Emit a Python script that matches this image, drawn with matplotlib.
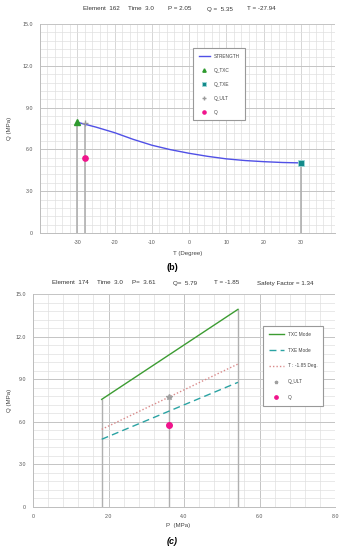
import matplotlib.pyplot as plt
import numpy as np
from matplotlib.ticker import MultipleLocator, FixedLocator

# ---- dados grafico (b) ----
temp = [-30, -25, -20, -15, -10, -5, 0, 5, 10, 15, 20, 25, 30]
strength = [7.95, 7.6, 7.2, 6.72, 6.3, 5.98, 5.72, 5.5, 5.32, 5.2, 5.12, 5.06, 5.03]
q_txc_b = (-30, 7.98)
q_txe_b = (30, 5.03)
q_ult_b = (-27.94, 7.88)
q_b = (-27.94, 5.35)
titulo_b = [("Element  162", 83), ("Time  3.0", 128), ("P = 2.05", 168), ("Q =  5.35", 207), ("T = -27.94", 247)]

# ---- dados grafico (c) ----
p_lim = [1.82, 5.43]
txc = [7.58, 13.92]
txe = [4.77, 8.78]
t_deg = [5.47, 10.07]
q_ult_c = (3.61, 7.77)
q_c = (3.61, 5.79)
titulo_c = [("Element  174", 52), ("Time  3.0", 97), ("P=  3.61", 132), ("Q=  5.79", 173),
            ("T = -1.85", 214), ("Safety Factor = 1.34", 257)]

W, H = 344, 550
plt.rcParams['font.family'] = ['Liberation Sans', 'DejaVu Sans']
plt.rcParams['axes.unicode_minus'] = False
fig = plt.figure(figsize=(W / 100, H / 100), dpi=100)

cinza_maior = '#c4c4c4'
cinza_menor = '#e0e0e0'
cinza_queda = '#b0b0b0'


def fx(px):
    return px / W


def fy(py):
    return 1 - py / H


def formatar_eixo(ax):
    ax.grid(which='major', color=cinza_maior, lw=0.7)
    ax.grid(which='minor', color=cinza_menor, lw=0.5)
    ax.set_axisbelow(True)
    for lado in ['top', 'right']:
        ax.spines[lado].set_visible(False)
    for lado in ['left', 'bottom']:
        ax.spines[lado].set_color('#bdbdbd')
        ax.spines[lado].set_linewidth(0.7)
    ax.tick_params(which='both', length=0, labelsize=3.8, colors='#555555', pad=5)
    ax.yaxis.set_major_locator(MultipleLocator(3))
    ax.yaxis.set_minor_locator(MultipleLocator(0.6))
    ax.set_ylim(0, 15)
    ax.set_yticks([0, 3, 6, 9, 12, 15])
    ax.set_yticklabels(['0', '3.0', '6.0', '9.0', '12.0', '15.0'])


# ---------------- (b) ----------------
ax1 = fig.add_axes([fx(40), fy(233), fx(295), fy(24) - fy(233)])
formatar_eixo(ax1)
ax1.set_xlim(-40, 39.1)
ax1.xaxis.set_minor_locator(MultipleLocator(2))
ax1.grid(which='major', axis='x', color=cinza_menor, lw=0.5)
ax1.xaxis.set_major_locator(FixedLocator([-30, -20, -10, 0, 10, 20, 30]))
ax1.vlines([-40, -30, -20, -10, 0, 10, 20, 30], 0, 15, color=cinza_maior, lw=0.7, zorder=0.5)

ax1.vlines([q_txc_b[0], q_ult_b[0], q_txe_b[0]], 0, [q_txc_b[1], q_ult_b[1], q_txe_b[1]],
           color=cinza_queda, lw=1.2, zorder=1)
ax1.plot(temp, strength, color='#5050e6', lw=1.0, label='STRENGTH', zorder=2)
ax1.plot(*q_txc_b, marker='^', color='#2e9a2e', ms=4, ls='none', label='Q_TXC', zorder=3)
ax1.plot(*q_txe_b, marker='s', color='#138a8a', mec='#9fd8d8', mew=0.6, ms=4, ls='none', label='Q_TXE', zorder=3)
ax1.plot(*q_ult_b, marker='+', color='#9a9a9a', ms=4, mew=1.0, ls='none', label='Q_ULT', zorder=3)
ax1.plot(*q_b, marker='o', color='#f0148c', ms=3.8, ls='none', label='Q', zorder=3)

leg1 = ax1.legend(loc='upper left', bbox_to_anchor=(fx(193), fy(48)), bbox_transform=fig.transFigure,
                  fontsize=3.4, labelspacing=1.9, handlelength=2.4, borderpad=1.2, handletextpad=0.8,
                  markerscale=0.6, fancybox=False, framealpha=1, edgecolor='#999999', borderaxespad=0)
leg1.get_frame().set_linewidth(0.8)
for t in leg1.get_texts():
    t.set_color('#444444')

for texto, x in titulo_b:
    fig.text(fx(x), fy(9), texto, fontsize=4.5, color='#333333', va='center', ha='left')
fig.text(fx(188), fy(253), 'T (Degree)', fontsize=4.4, color='#444444', ha='center', va='center')
fig.text(fx(10), (fy(233) + fy(24)) / 2, 'Q (MPa)', fontsize=4.4, color='#444444', rotation=90,
         ha='center', va='center')
fig.text(fx(172), fy(267), '(b)', fontsize=6.5, fontweight='bold', ha='center', va='center')

# ---------------- (c) ----------------
ax2 = fig.add_axes([fx(33), fy(507), fx(302), fy(294) - fy(507)])
formatar_eixo(ax2)
ax2.set_xlim(0, 8)
ax2.xaxis.set_major_locator(MultipleLocator(2))
ax2.xaxis.set_minor_locator(MultipleLocator(0.4))
ax2.set_xticks([0, 2, 4, 6, 8])
ax2.set_xticklabels(['0', '2.0', '4.0', '6.0', '8.0'])

ax2.vlines([p_lim[0], q_ult_c[0], p_lim[1]], 0, [txc[0], q_ult_c[1], txc[1]],
           color=cinza_queda, lw=1.0, zorder=1)
ax2.plot(p_lim, txc, color='#3c9c32', lw=1.0, label='TXC Mode', zorder=2)
ax2.plot(p_lim, txe, color='#2aa3a3', lw=1.0, ls=(0, (5, 3)), label='TXE Mode', zorder=2)
ax2.plot(p_lim, t_deg, color='#d98a8a', lw=1.0, ls=(0, (1, 1.5)), label='T : -1.85 Deg.', zorder=2)
ax2.plot(*q_ult_c, marker='*', color='#a0a0a0', ms=4, ls='none', label='Q_ULT', zorder=3)
ax2.plot(*q_c, marker='o', color='#f0148c', ms=4, ls='none', label='Q', zorder=3)

leg2 = ax2.legend(loc='upper left', bbox_to_anchor=(fx(263), fy(326)), bbox_transform=fig.transFigure,
                  fontsize=3.4, labelspacing=2.3, handlelength=3.2, borderpad=1.2, handletextpad=0.8,
                  markerscale=0.6, fancybox=False, framealpha=1, edgecolor='#999999', borderaxespad=0)
leg2.get_frame().set_linewidth(0.8)
for t in leg2.get_texts():
    t.set_color('#444444')

for texto, x in titulo_c:
    fig.text(fx(x), fy(283), texto, fontsize=4.5, color='#333333', va='center', ha='left')
fig.text(fx(178), fy(526), 'P  (MPa)', fontsize=4.4, color='#444444', ha='center', va='center')
fig.text(fx(10), (fy(507) + fy(294)) / 2, 'Q (MPa)', fontsize=4.4, color='#444444', rotation=90,
         ha='center', va='center')
fig.text(fx(172), fy(541), '(c)', fontsize=6.5, fontweight='bold', style='italic', ha='center', va='center')

fig.savefig('out.png', dpi=100)
